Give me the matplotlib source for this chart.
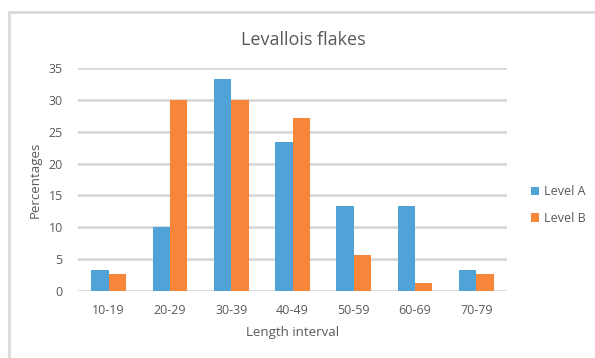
import numpy as np
import matplotlib
matplotlib.use("Agg")
import matplotlib.pyplot as plt
from matplotlib.patches import Rectangle

categories = ["10-19", "20-29", "30-39", "40-49", "50-59", "60-69", "70-79"]
level_a = [3.3, 10.0, 33.3, 23.4, 13.3, 13.3, 3.3]
level_b = [2.7, 30.0, 30.0, 27.1, 5.6, 1.3, 2.7]
series_names = ["Level A", "Level B"]
y_ticks = [0, 5, 10, 15, 20, 25, 30, 35]

BLUE = "#4FA3D6"
ORANGE = "#F7853A"
GRID = "#D9D9D9"
TEXT = "#595959"

plt.rcParams["font.family"] = ["Open Sans", "DejaVu Sans"]

fig = plt.figure(figsize=(5.95, 3.58), dpi=100)
W, H = 595, 358

# chart frame
fig.patches.append(Rectangle((9 / W, -0.1), 1.2, 1 - 12 / H + 0.1,
                             transform=fig.transFigure, fill=False,
                             edgecolor=GRID, linewidth=2.0))

ax = fig.add_axes([78 / W, 1 - 291 / H, (507 - 78) / W, (291 - 68) / H])
x = np.arange(len(categories))
bw = 0.283
ax.bar(x - bw / 2, level_a, width=bw, color=BLUE, label=series_names[0], zorder=3)
ax.bar(x + bw / 2, level_b, width=bw, color=ORANGE, label=series_names[1], zorder=3)

ax.set_xlim(-0.5, len(categories) - 0.5)
ax.set_ylim(0, 35)
ax.set_yticks(y_ticks)
ax.set_xticks(x)
ax.set_xticklabels(categories)
ax.yaxis.grid(True, color=GRID, linewidth=2.0, zorder=0)
ax.set_axisbelow(True)
for s in ax.spines.values():
    s.set_visible(False)
ax.tick_params(axis="both", length=0, colors=TEXT, labelsize=9)
ax.tick_params(axis="x", pad=9)
ax.tick_params(axis="y", pad=11)

ax.set_xlabel("Length interval", color=TEXT, fontsize=9.5, labelpad=7)
ax.set_ylabel("Percentages", color=TEXT, fontsize=9.5, labelpad=5)
fig.text(303 / W, 1 - 40 / H, "Levallois flakes", ha="center", va="center",
         color=TEXT, fontsize=13)

leg = ax.legend(loc="center left", bbox_to_anchor=(1.03, 0.385), frameon=False,
                fontsize=9, handlelength=0.65, handleheight=0.65,
                handletextpad=0.35, labelspacing=1.1, labelcolor=TEXT)

fig.savefig("out.png", dpi=100, facecolor="white")
